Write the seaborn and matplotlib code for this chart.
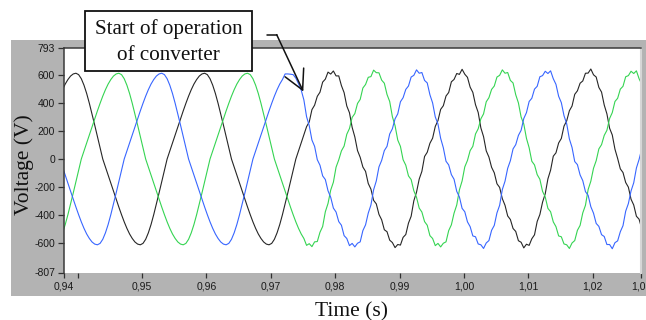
import numpy as np
import pandas as pd
import matplotlib
matplotlib.use("Agg")
import matplotlib.pyplot as plt
from matplotlib.patches import Rectangle
from matplotlib.lines import Line2D
import seaborn as sns

# Sample clock of the recorder (48 samples per 50 Hz cycle)
t_start = 0.93764
t_step = 0.02 / 48

# Phase voltages (V), one value per sample
phase_black = [
    493, 533, 565, 590, 605, 610, 600, 571, 525, 466, 396, 320, 241, 161, 80, 0,
    -57, -115, -172, -229, -286, -342, -396, -447, -493, -533, -565, -590, -605, -610,
    -600, -571, -525, -466, -396, -320, -241, -161, -80,
    0, 57, 115, 172, 229, 286, 342, 396, 447, 493, 533, 565, 590, 605, 610, 600, 571,
    525, 466, 396, 320, 241, 161, 80, 0, -57, -115, -172, -229, -286, -342, -396, -447,
    -493, -533, -565, -590, -605, -610, -600, -571, -525, -466, -396, -320, -241, -161, -80,
    0, 57, 115, 172,
    230, 264, 351, 383, 446, 475, 547, 568, 618, 604, 626, 591, 591, 522,
    472, 377, 329, 225, 157, 60, 12, -57, -88, -174, -214, -294, -319, -394,
    -432, -503, -517, -577, -594, -630, -608, -612, -557, -537, -456, -407, -297, -236,
    -143, -88, 18, 48, 112, 148, 232, 273, 353, 379, 448, 473, 549, 566,
    608, 602, 638, 603, 581, 511, 474, 386, 331, 221, 159, 58, 14, -59,
    -98, -176, -202, -282, -329, -405, -430, -494, -515, -581, -592, -632, -606, -614,
    -567, -539, -444, -395, -307, -247, -141, -79, 20, 44, 114, 146, 234, 271,
    343, 377, 460, 485, 539, 555, 610, 611, 640, 599, 583, 509, 476, 384,
    321, 219, 171, 70, 4, -70, -96, -167, -200, -286, -327, -407, -428, -496,
]

phase_green = [
    -525, -466, -396, -320, -241, -161, -80,
    0, 57, 115, 172, 229, 286, 342, 396, 447, 493, 533, 565, 590, 605, 610, 600, 571,
    525, 466, 396, 320, 241, 161, 80, 0, -57, -115, -172, -229, -286, -342, -396, -447,
    -493, -533, -565, -590, -605, -610, -600, -571, -525, -466, -396, -320, -241, -161, -80,
    0, 57, 115, 172, 229, 286, 342, 396, 447, 493, 533, 565, 590, 605, 610, 600, 571,
    525, 466, 396, 320, 241, 161, 80, 0, -57, -115, -172, -229, -286, -342, -396, -447,
    -493, -533, -565,
    -614, -602, -623, -589, -587, -521, -480, -375, -316, -221, -165, -58, -6, 58,
    92, 176, 217, 296, 323, 395, 424, 505, 530, 581, 586, 632, 614, 613,
    561, 539, 459, 409, 301, 237, 135, 90, -5, -44, -120, -146, -226, -272,
    -349, -377, -445, -471, -545, -565, -616, -600, -625, -599, -589, -509, -468, -385,
    -327, -219, -156, -56, -10, 60, 90, 178, 215, 286, 321, 407, 436, 495,
    519, 583, 595, 634, 610, 615, 559, 541, 457, 399, 299, 249, 147, 80,
    -16, -42, -111, -144, -230, -270, -351, -375, -447, -481, -547, -553, -604, -610,
    -636, -597, -580, -507, -472, -383, -329, -217, -158, -66, -12, 72, 102, 168,
    204, 288, 330, 409, 432, 497, 517, 585, 593, 624, 608, 627, 571, 531,
]

phase_blue = [
    -57, -115, -172, -229, -286, -342, -396, -447, -493, -533, -565, -590, -605, -610,
    -600, -571, -525, -466, -396, -320, -241, -161, -80,
    0, 57, 115, 172, 229, 286, 342, 396, 447, 493, 533, 565, 590, 605, 610, 600, 571,
    525, 466, 396, 320, 241, 161, 80, 0, -57, -115, -172, -229, -286, -342, -396, -447,
    -493, -533, -565, -590, -605, -610, -600, -571, -525, -466, -396, -320, -241, -161, -80,
    0, 57, 115, 172, 229, 286, 342, 396, 447, 493, 533, 565, 605, 605, 603, 600,
    575, 535, 490, 420,
    301, 237, 135, 90, -5, -44, -120, -146, -226, -272, -349, -377, -445, -471,
    -545, -565, -616, -600, -625, -599, -589, -509, -468, -385, -327, -219, -156, -56,
    -10, 60, 90, 178, 215, 286, 321, 407, 436, 495, 519, 583, 595, 634,
    610, 615, 559, 541, 457, 399, 299, 249, 147, 80, -16, -42, -111, -144,
    -230, -270, -351, -375, -447, -481, -547, -553, -604, -610, -636, -597, -580, -507,
    -472, -383, -329, -217, -158, -66, -12, 72, 102, 168, 204, 288, 330, 409,
    432, 497, 517, 585, 593, 624, 608, 627, 571, 531, 446, 401, 308, 251,
    143, 82, -18, -40, -113, -154, -232, -258, -339, -385, -458, -479, -538, -551,
    -608, -608, -638, -595, -582, -517, -474, -371, -317, -227, -169, -64, -3, 74,
]

x_range = [0.93779, 1.02752]
x_ticks = [0.93779, 0.94, 0.95, 0.96, 0.97, 0.98, 0.99, 1.00, 1.01, 1.02, 1.02752]
x_tick_labels = ["0,94", "", "0,95", "0,96", "0,97", "0,98", "0,99",
                 "1,00", "1,01", "1,02", "1,03"]
y_range = [-807, 793]
y_ticks = [-807, -600, -400, -200, 0, 200, 400, 600, 793]
y_tick_labels = ["-807", "-600", "-400", "-200", "0", "200", "400", "600", "793"]

phase_names = ["black", "green", "blue"]
phase_colors = ["#262626", "#35d452", "#3866ff"]

n = len(phase_black)
time = t_start + t_step * np.arange(n)
df = pd.concat([
    pd.DataFrame({"time": time, "voltage": vals, "phase": name})
    for name, vals in zip(phase_names, [phase_black, phase_green, phase_blue])
], ignore_index=True)

sns.set_style("white")
plt.rcParams["font.family"] = ["Liberation Sans", "DejaVu Sans"]

W, H = 646, 320
fig = plt.figure(figsize=(W / 100, H / 100), dpi=100)
fig.patch.set_facecolor("white")


def fx(px):
    return px / W


def fy(py):
    return 1 - py / H


# grey instrument panel behind the graph
fig.add_artist(Rectangle((fx(11), fy(296)), fx(646 - 11), (296 - 40) / H,
                         transform=fig.transFigure, facecolor="#b3b3b3",
                         edgecolor="none", zorder=-5))

ax = fig.add_axes([fx(63.5), fy(272.5), fx(641 - 63.5), (272.5 - 47.5) / H])
ax.set_facecolor("white")

sns.lineplot(data=df, x="time", y="voltage", hue="phase", hue_order=phase_names,
             palette=phase_colors, linewidth=0.8, legend=False,
             estimator=None, sort=False, ax=ax)

ax.set_xlim(*x_range)
ax.set_ylim(*y_range)
ax.set_xticks(x_ticks)
ax.set_xticklabels(x_tick_labels)
ax.set_yticks(y_ticks)
ax.set_yticklabels(y_tick_labels)
ax.set_xlabel("")
ax.set_ylabel("")

for side in ("left", "top"):
    ax.spines[side].set_color("#3a3a3a")
    ax.spines[side].set_linewidth(1.1)
ax.spines["right"].set_color("#d6d6d6")
ax.spines["right"].set_linewidth(1.5)
ax.spines["bottom"].set_visible(False)

ax.tick_params(axis="y", direction="out", length=4, width=0.9, color="#303030",
               pad=2, labelsize=7.5, labelcolor="#1a1a1a", left=True)
ax.tick_params(axis="x", direction="out", length=3.5, width=0.9, color="#303030",
               pad=3, labelsize=7.5, labelcolor="#1a1a1a", bottom=True)

serif = ["Liberation Serif", "DejaVu Serif"]
fig.text(fx(24), fy(165), "Voltage (V)", rotation=90, ha="center", va="center",
         fontsize=15.5, family=serif, color="#111111")
fig.text(fx(351.5), fy(316), "Time (s)", ha="center", va="baseline",
         fontsize=15.5, family=serif, color="#111111")

# callout box
fig.add_artist(Rectangle((fx(85), fy(70.5)), fx(252 - 85), (70.5 - 11) / H,
                         transform=fig.transFigure, facecolor="white",
                         edgecolor="#111111", linewidth=1.3, zorder=5))
fig.text(fx(168.5), fy(34.3), "Start of operation", ha="center", va="baseline",
         fontsize=15.2, family=serif, color="#111111", zorder=6)
fig.text(fx(168.5), fy(60), "of converter", ha="center", va="baseline",
         fontsize=15.2, family=serif, color="#111111", zorder=6)

fig.add_artist(Line2D([fx(267.3), fx(276.7)], [fy(34.7), fy(34.7)],
                      transform=fig.transFigure, color="#111111", linewidth=1.1,
                      zorder=6))
ax.annotate("", xy=(0.97505, 480), xycoords="data",
            xytext=(fx(276.7), fy(34.7)), textcoords="figure fraction",
            arrowprops=dict(arrowstyle="->,head_length=1.4,head_width=0.74",
                            color="#111111", lw=1.1, shrinkA=0, shrinkB=0,
                            mutation_scale=10),
            annotation_clip=False, zorder=7)

fig.savefig("out.png", dpi=100)
